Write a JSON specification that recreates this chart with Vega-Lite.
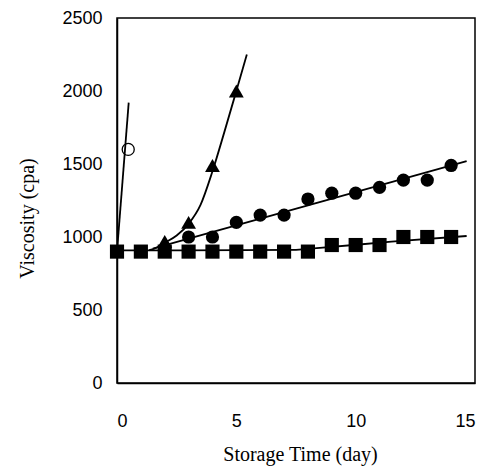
{
  "$schema": "https://vega.github.io/schema/vega-lite/v6.json",
  "autosize": {"type": "none"},
  "padding": {"left": 117, "top": 18, "right": 15, "bottom": 83},
  "width": 358,
  "height": 365,
  "background": "white",
  "config": {
    "view": {"stroke": "black", "strokeWidth": 1.5},
    "axis": {
      "grid": false,
      "zindex": 1,
      "ticks": false,
      "domainColor": "black",
      "domainWidth": 1.5,
      "labelFont": "Liberation Sans",
      "labelFontSize": 18,
      "labelColor": "black",
      "titleFont": "Liberation Serif",
      "titleFontSize": 20,
      "titleFontWeight": "normal",
      "titleColor": "black"
    }
  },
  "datasets": {
    "points": [
      {"series": "s4", "day": 0, "viscosity": 900},
      {"series": "s4", "day": 1, "viscosity": 900},
      {"series": "s4", "day": 2, "viscosity": 900},
      {"series": "s4", "day": 3, "viscosity": 900},
      {"series": "s4", "day": 4, "viscosity": 900},
      {"series": "s4", "day": 5, "viscosity": 900},
      {"series": "s4", "day": 6, "viscosity": 900},
      {"series": "s4", "day": 7, "viscosity": 900},
      {"series": "s4", "day": 8, "viscosity": 900},
      {"series": "s4", "day": 9, "viscosity": 945},
      {"series": "s4", "day": 10, "viscosity": 945},
      {"series": "s4", "day": 11, "viscosity": 945},
      {"series": "s4", "day": 12, "viscosity": 1000},
      {"series": "s4", "day": 13, "viscosity": 1000},
      {"series": "s4", "day": 14, "viscosity": 1000},
      {"series": "s3", "day": 3, "viscosity": 1000},
      {"series": "s3", "day": 4, "viscosity": 1000},
      {"series": "s3", "day": 5, "viscosity": 1100},
      {"series": "s3", "day": 6, "viscosity": 1150},
      {"series": "s3", "day": 7, "viscosity": 1150},
      {"series": "s3", "day": 8, "viscosity": 1260},
      {"series": "s3", "day": 9, "viscosity": 1300},
      {"series": "s3", "day": 10, "viscosity": 1300},
      {"series": "s3", "day": 11, "viscosity": 1340},
      {"series": "s3", "day": 12, "viscosity": 1390},
      {"series": "s3", "day": 13, "viscosity": 1390},
      {"series": "s3", "day": 14, "viscosity": 1490},
      {"series": "s2", "day": 2, "viscosity": 970},
      {"series": "s2", "day": 3, "viscosity": 1100},
      {"series": "s2", "day": 4, "viscosity": 1490},
      {"series": "s2", "day": 5, "viscosity": 2000},
      {"series": "s1", "day": 0.47, "viscosity": 1600}
    ],
    "fits": [
      {"series": "s1", "day": 0, "viscosity": 900},
      {"series": "s1", "day": 0.49, "viscosity": 1920},
      {"series": "s2", "day": 1.35, "viscosity": 910},
      {"series": "s2", "day": 1.7, "viscosity": 930},
      {"series": "s2", "day": 2, "viscosity": 960},
      {"series": "s2", "day": 2.5, "viscosity": 1010},
      {"series": "s2", "day": 3, "viscosity": 1090},
      {"series": "s2", "day": 3.5, "viscosity": 1220},
      {"series": "s2", "day": 4, "viscosity": 1450},
      {"series": "s2", "day": 4.5, "viscosity": 1720},
      {"series": "s2", "day": 5, "viscosity": 2000},
      {"series": "s2", "day": 5.44, "viscosity": 2250},
      {"series": "s3", "day": 1.5, "viscosity": 920},
      {"series": "s3", "day": 14.65, "viscosity": 1520},
      {"series": "s4", "day": 0, "viscosity": 908},
      {"series": "s4", "day": 7.5, "viscosity": 912},
      {"series": "s4", "day": 8.5, "viscosity": 925},
      {"series": "s4", "day": 11.5, "viscosity": 968},
      {"series": "s4", "day": 14.65, "viscosity": 1007}
    ],
    "yticks": [
      {"tick": 500}, {"tick": 1000}, {"tick": 1500}, {"tick": 2000}
    ],
    "xticks": [
      {"tick": 5}, {"tick": 10}
    ]
  },
  "encoding": {
    "x": {"field": "day", "type": "quantitative", "scale": {"domain": [0, 15], "nice": false},
          "axis": {"values": [0, 5, 10, 15], "format": "d", "title": "Storage Time (day)", "labelPadding": 29, "titlePadding": 14, "titleX": 183}},
    "y": {"field": "viscosity", "type": "quantitative", "scale": {"domain": [0, 2500], "nice": false},
          "axis": {"values": [0, 500, 1000, 1500, 2000, 2500], "format": "d", "title": "Viscosity (cpa)", "labelPadding": 15, "titlePadding": 24, "titleY": 200}}
  },
  "layer": [
    {
      "data": {"name": "yticks"},
      "mark": {"type": "rule", "color": "black", "strokeWidth": 1.5},
      "encoding": {
        "y": {"field": "tick", "type": "quantitative"},
        "x": {"datum": 0, "type": "quantitative"},
        "x2": {"datum": 0.42}
      }
    },
    {
      "data": {"name": "xticks"},
      "mark": {"type": "rule", "color": "black", "strokeWidth": 1.5},
      "encoding": {
        "x": {"field": "tick", "type": "quantitative"},
        "y": {"datum": 0, "type": "quantitative"},
        "y2": {"datum": 68.5}
      }
    },
    {
      "data": {"name": "fits"},
      "mark": {"type": "line", "color": "black", "strokeWidth": 1.8, "interpolate": "monotone", "clip": true},
      "encoding": {
        "detail": {"field": "series", "type": "nominal"}
      }
    },
    {
      "data": {"name": "points"},
      "transform": [{"filter": "datum.series === 's4'"}],
      "mark": {"type": "point", "shape": "square", "filled": true, "color": "black", "opacity": 1, "size": 200}
    },
    {
      "data": {"name": "points"},
      "transform": [{"filter": "datum.series === 's3'"}],
      "mark": {"type": "point", "shape": "circle", "filled": true, "color": "black", "opacity": 1, "size": 175}
    },
    {
      "data": {"name": "points"},
      "transform": [{"filter": "datum.series === 's2'"}],
      "mark": {"type": "point", "shape": "triangle-up", "filled": true, "color": "black", "opacity": 1, "size": 220}
    },
    {
      "data": {"name": "points"},
      "transform": [{"filter": "datum.series === 's1'"}],
      "mark": {"type": "point", "shape": "circle", "filled": false, "color": "black", "opacity": 1, "strokeWidth": 1.3, "size": 145}
    }
  ]
}
